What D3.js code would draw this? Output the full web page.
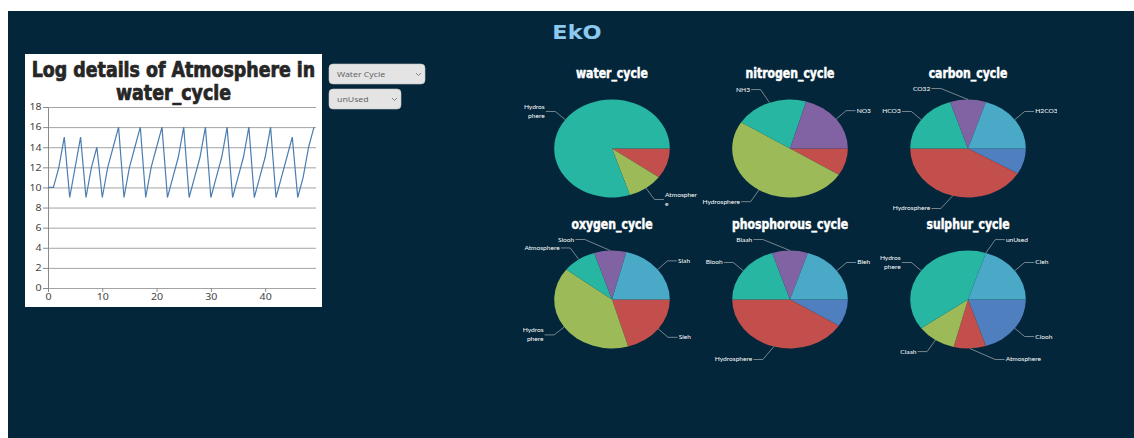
<!DOCTYPE html>
<html>
<head>
<meta charset="utf-8">
<title>EkO</title>
<script src="https://cdn.jsdelivr.net/npm/d3@7"></script>
<style>
  html, body { margin: 0; padding: 0; background: #fff; }
  svg { display: block; }
  .narrow { font-family: "Liberation Sans Narrow", "DejaVu Sans Condensed", "Arial Narrow", sans-serif; font-weight: bold; }
</style>
</head>
<body>
<svg id="page" width="1134" height="438"></svg>
<script>
// ---- data ----
const logValues = [10, 10, 12, 15, 9, 12, 15, 9, 12, 14,
                   9, 12, 14, 16, 9, 12, 14, 16, 9, 12,
                   14, 16, 9, 11, 13, 16, 9, 11, 13, 16,
                   9, 11, 13, 16, 9, 11, 13, 16, 9, 11,
                   13, 16, 9, 11, 13, 15, 9, 11, 14, 16];
const yTicks = [0, 2, 4, 6, 8, 10, 12, 14, 16, 18];
const xTicks = [0, 10, 20, 30, 40];

const cycleOptions = ["Water Cycle"];
const sphereOptions = ["unUsed"];

const cycleNames = ["water_cycle", "nitrogen_cycle", "carbon_cycle",
                    "oxygen_cycle", "phosphorous_cycle", "sulphur_cycle"];
const sliceColors = ["#4f7fbf", "#c24f4c", "#9cbb58", "#27b6a2", "#8162a3", "#4aa9c7"];

const waterValues  = [0, 10, 10, 80, 0, 0];
const waterLabels  = ["", "", "Atmospher\ne", "Hydros\nphere", "", ""];
const nitroValues  = [0, 9, 50, 20.5, 20.5, 0];
const nitroLabels  = ["", "", "Hydrosphere", "NH3", "NO3", ""];
const carbonValues = [8.5, 41.5, 0, 20, 10, 20];
const carbonLabels = ["", "Hydrosphere", "", "HCO3", "CO32", "H2CO3"];
const oxyValues    = [0, 20.5, 40, 9.5, 9, 21];
const oxyLabels    = ["", "Sleh", "Hydros\nphere", "Atmosphere", "Slooh", "Slah"];
const phosValues   = [9, 41, 0, 20, 10, 20];
const phosLabels   = ["", "Hydrosphere", "", "Blooh", "Blaah", "Bleh"];
const sulphValues  = [20, 9, 11, 40, 0, 20];
const sulphLabels  = ["Clooh", "Atmosphere", "Claah", "Hydros\nphere", "unUsed", "Cleh"];

const cycleValues = [waterValues, nitroValues, carbonValues, oxyValues, phosValues, sulphValues];
const cycleLabels = [waterLabels, nitroLabels, carbonLabels, oxyLabels, phosLabels, sulphLabels];

// the whole picture is a little wider than tall
const SX = 1.18;

const svg = d3.select("#page");

svg.append("rect")
    .attr("x", 8).attr("y", 11)
    .attr("width", 1126).attr("height", 427)
    .attr("fill", "#03263a");

svg.append("text")
    .attr("transform", "translate(577,39) scale(" + SX + ",1)")
    .attr("text-anchor", "middle")
    .style("font-family", "DejaVu Sans, sans-serif")
    .style("font-weight", "bold")
    .style("font-size", "19px")
    .attr("fill", "#8cc9ef")
    .text("EkO");

// ---- line chart panel ----
const panel = {x: 25, y: 54, w: 297, h: 253};

svg.append("rect")
    .attr("x", panel.x).attr("y", panel.y)
    .attr("width", panel.w).attr("height", panel.h)
    .attr("fill", "#fff");

const titleLines = ["Log details of Atmosphere in", "water_cycle"];
svg.append("g").selectAll("text")
    .data(titleLines)
    .join("text")
    .attr("class", "narrow")
    .attr("transform", (d, i) => "translate(" + (panel.x + panel.w / 2) + "," + (77 + i * 23) + ") scale(" + (SX * 0.8) + ",1)")
    .attr("text-anchor", "middle")
    .style("font-size", "20.5px")
    .attr("fill", "#262626")
    .attr("stroke", "#262626")
    .attr("stroke-width", 0.7)
    .text(d => d);

const x = d3.scaleLinear()
    .domain([0, logValues.length - 1])
    .range([48, 314]);

const y = d3.scaleLinear()
    .domain([0, 18])
    .range([288, 107]);

svg.append("g")
    .selectAll("line")
    .data(yTicks)
    .join("line")
    .attr("x1", x(0)).attr("x2", 316)
    .attr("y1", d => y(d) + 0.5).attr("y2", d => y(d) + 0.5)
    .attr("stroke", "#a3a3a3")
    .attr("stroke-width", 1);

const gy = svg.append("g")
    .attr("transform", "translate(" + x(0) + ",0)")
    .call(d3.axisLeft(y).tickValues(yTicks).tickSize(5).tickSizeOuter(0).tickPadding(0.5));

const gx = svg.append("g")
    .attr("transform", "translate(0," + y(0) + ")")
    .call(d3.axisBottom(x).tickValues(xTicks).tickSize(4).tickSizeOuter(0).tickPadding(2));
gx.select(".domain").remove();

[gy, gx].forEach(g => {
    g.selectAll("line, path").attr("stroke", "#8a8a8a");
    g.selectAll("text")
        .attr("transform", "scale(" + SX + ",1)")
        .attr("fill", "#444")
        .style("font-family", "Noto Sans, sans-serif")
        .style("font-size", "9px");
});

const line = d3.line()
    .x((d, i) => x(i))
    .y(d => y(d));

svg.append("path")
    .datum(logValues)
    .attr("d", line)
    .attr("fill", "none")
    .attr("stroke", "#4c7db0")
    .attr("stroke-width", 1.2);

// ---- dropdowns ----
const dropdowns = [
    {text: cycleOptions[0], x: 329, y: 64, w: 96},
    {text: sphereOptions[0], x: 329, y: 89, w: 72}
];

const dd = svg.append("g").selectAll("g")
    .data(dropdowns)
    .join("g")
    .attr("transform", d => "translate(" + d.x + "," + d.y + ")");

dd.append("rect")
    .attr("width", d => d.w).attr("height", 20)
    .attr("rx", 4)
    .attr("fill", "#e4e4e4")
    .attr("stroke", "#c8c8c8")
    .attr("stroke-width", 0.6);

dd.append("text")
    .attr("transform", "translate(8,13) scale(" + SX + ",1)")
    .attr("fill", "#666")
    .style("font-family", "Noto Sans, sans-serif")
    .style("font-size", "7.4px")
    .text(d => d.text);

dd.append("path")
    .attr("d", d => "M" + (d.w - 9) + ",9l2.5,2.5l2.5,-2.5")
    .attr("fill", "none")
    .attr("stroke", "#777")
    .attr("stroke-width", 0.9);

// ---- pies ----
const R = 49;
const labelR = 63;      // radius at which a label's height is taken
const labelRx = 68;     // radius at which its x is taken
const labelMaxY = 60;   // labels stay inside the plot box
const col = d3.scaleBand().domain([0, 1, 2]).range([523, 1057]);
const row = d3.scaleBand().domain([0, 1]).range([73, 375]);

const pie = d3.pie()
    .sort(null)
    .startAngle(Math.PI / 2)
    .endAngle(Math.PI / 2 + 2 * Math.PI);

const arc = d3.arc().innerRadius(0).outerRadius(R);

const defs = svg.append("defs");

cycleNames.forEach((name, k) => {
    const c = k % 3, r = Math.floor(k / 3);
    const cx = col(c) + col.bandwidth() / 2;
    const cy = row(r) + row.bandwidth() / 2;

    defs.append("clipPath")
        .attr("id", "cell" + k)
        .append("rect")
        .attr("x", col(c)).attr("y", 0)
        .attr("width", col.bandwidth()).attr("height", 438);

    const g = svg.append("g")
        .attr("clip-path", "url(#cell" + k + ")")
        .append("g")
        .attr("transform", "translate(" + cx + "," + cy + ") scale(" + SX + ",1)");

    g.append("text")
        .attr("class", "narrow")
        .attr("transform", "translate(0,-71) scale(0.76,1)")
        .attr("text-anchor", "middle")
        .attr("fill", "#fff")
        .attr("stroke", "#fff")
        .attr("stroke-width", 0.45)
        .style("font-size", "13.5px")
        .text(name);

    const arcs = pie(cycleValues[k]);
    const labels = cycleLabels[k];

    g.selectAll("path.slice")
        .data(arcs)
        .join("path")
        .attr("class", "slice")
        .attr("d", arc)
        .attr("fill", (d, i) => sliceColors[i]);

    const lab = arcs.map((d, i) => ({arc: d, text: labels[i]})).filter(d => d.text !== "");

    lab.forEach(d => {
        const mid = (d.arc.startAngle + d.arc.endAngle) / 2;
        const sx = Math.sin(mid), sy = -Math.cos(mid);
        const side = sx >= 0 ? 1 : -1;
        const ly = Math.max(-labelMaxY, Math.min(labelMaxY, sy * labelR));
        const lx = side * Math.sqrt(labelRx * labelRx - ly * ly);
        const p0 = [sx * R, sy * R];
        const p2 = [lx - side * 1, ly];
        const p1 = [lx - side * 9, ly];

        g.append("polyline")
            .attr("points", [p0, p1, p2].map(p => p.join(",")).join(" "))
            .attr("fill", "none")
            .attr("stroke", "#9aa3a8")
            .attr("stroke-width", 0.7);

        const parts = d.text.split("\n");
        const t = g.append("text")
            .attr("x", lx)
            .attr("y", ly)
            .attr("text-anchor", side > 0 ? "start" : "end")
            .attr("fill", "#fff")
            .style("font-family", "Lato, sans-serif")
            .style("font-size", "5.6px");
        t.selectAll("tspan")
            .data(parts)
            .join("tspan")
            .attr("x", lx)
            .attr("dy", (p, i) => i === 0 ? (2 - (parts.length - 1) * 4.5) : 9)
            .text(p => p);
    });
});
</script>
</body>
</html>
